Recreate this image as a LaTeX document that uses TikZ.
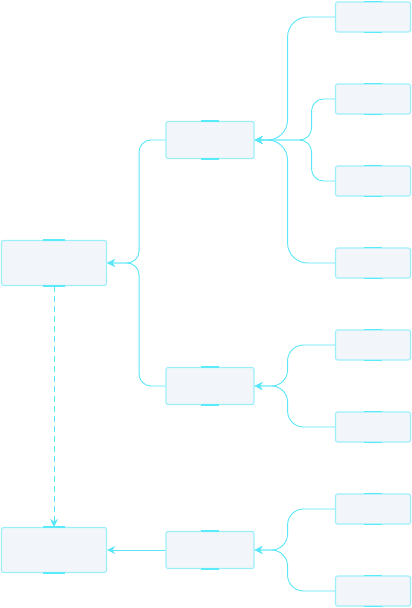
\documentclass[tikz,border=0pt]{standalone}
\usetikzlibrary{arrows.meta,calc}
\definecolor{boxfill}{HTML}{F2F5FA}
\definecolor{boxline}{HTML}{9CEFFA}
\definecolor{accent}{HTML}{5AEAFA}
\definecolor{wire}{HTML}{58E6F8}
\tikzset{
  card/.style={draw=boxline, fill=boxfill, line width=1.1pt, rounded corners=2pt,
    inner sep=0pt, minimum width=#1},
  rootcard/.style={card=105pt, minimum height=45pt},
  midcard/.style={card=88pt, minimum height=37pt},
  leafcard/.style={card=75pt, minimum height=30pt},
  wirearrow/.style={draw=wire, line width=0.9pt, -{Stealth[length=8pt,width=8pt]}},
  flow/.style={wirearrow, rounded corners=#1},
  flow/.default=12pt,
  tick/.style={draw=accent, line width=1.6pt}
}
% short highlight strokes centred on the top and bottom edges of a card
\newcommand{\cardticks}[2]{%
  \draw[tick] ($(#1.north)+(-#2,0)$) -- ($(#1.north)+(#2,0)$);
  \draw[tick] ($(#1.south)+(-#2,0)$) -- ($(#1.south)+(#2,0)$);}
\begin{document}
\begin{tikzpicture}[x=1pt,y=-1pt]
\useasboundingbox (0,0) rectangle (412,608);

% roots
\node[rootcard] (r1) at (54,263) {};
\node[rootcard] (r2) at (54,550) {};
% middle level
\node[midcard] (m1) at (210,140) {};
\node[midcard] (m2) at (210,386) {};
\node[midcard] (m3) at (210,550) {};
% leaves
\foreach \i/\y in {1/17,2/99,3/181,4/263,5/345,6/427,7/509,8/591}
  \node[leafcard] (l\i) at (373,\y) {};

\foreach \n/\w in {r1/11,r2/11,m1/9,m2/9,m3/9,l1/9,l2/9,l3/9,l4/9,l5/9,l6/9,l7/9,l8/9}{
  \cardticks{\n}{\w}
}

% leaves into the middle cards
\draw[flow=20pt] (l1.west) -| ($(m1.east)+(33,0)$) -- (m1.east);
\draw[flow=12pt] (l2.west) -| ($(m1.east)+(57,0)$) -- (m1.east);
\draw[flow=12pt] (l3.west) -| ($(m1.east)+(57,0)$) -- (m1.east);
\draw[flow=20pt] (l4.west) -| ($(m1.east)+(33,0)$) -- (m1.east);
\draw[flow=16pt] (l5.west) -| ($(m2.east)+(33,0)$) -- (m2.east);
\draw[flow=16pt] (l6.west) -| ($(m2.east)+(33,0)$) -- (m2.east);
\draw[flow=16pt] (l7.west) -| ($(m3.east)+(33,0)$) -- (m3.east);
\draw[flow=16pt] (l8.west) -| ($(m3.east)+(33,0)$) -- (m3.east);

% middle cards into the roots
\draw[flow=12pt] (m1.west) -| ($(r1.east)+(32,0)$) -- (r1.east);
\draw[flow=12pt] (m2.west) -| ($(r1.east)+(32,0)$) -- (r1.east);
\draw[wirearrow] (m3.west) -- (r2.east);

% dashed link between the roots
\draw[wirearrow, dashed, dash pattern=on 6pt off 4pt] (r1.south) -- (r2.north);
\end{tikzpicture}
\end{document}
